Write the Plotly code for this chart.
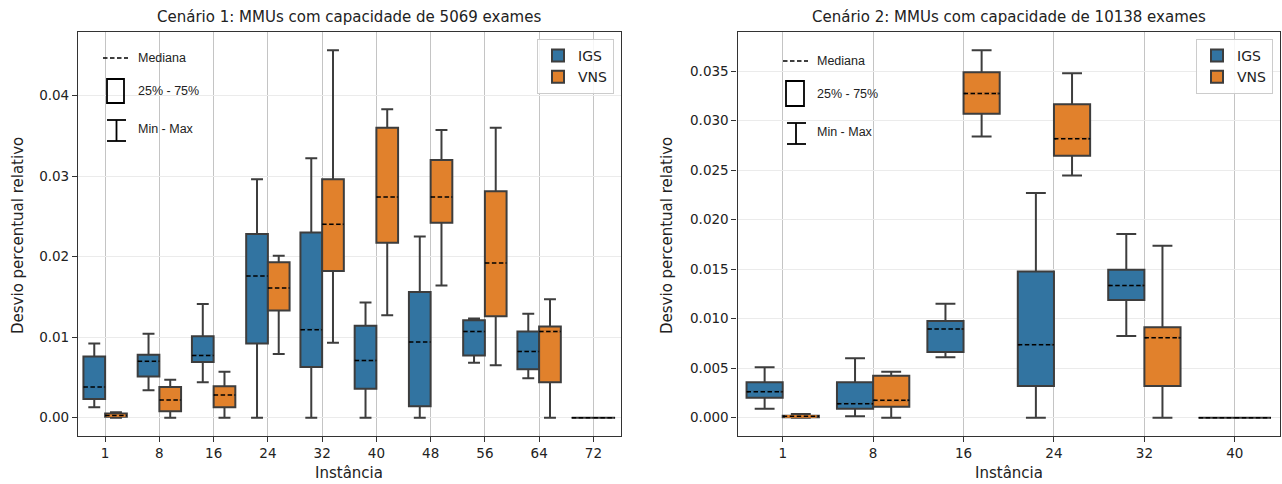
import plotly.graph_objects as go

# ---------------- data ----------------
cats1 = ["1", "8", "16", "24", "32", "40", "48", "56", "64", "72"]
igs1_min = [0.0013, 0.0034, 0.0044, 0.0, 0.0, 0.0, 0.0, 0.0068, 0.0049, 0.0]
igs1_q1 = [0.0023, 0.0051, 0.0069, 0.0092, 0.0063, 0.0036, 0.0014, 0.0077, 0.0060, 0.0]
igs1_med = [0.0038, 0.0070, 0.0077, 0.0176, 0.0109, 0.0071, 0.0094, 0.0107, 0.0082, 0.0]
igs1_q3 = [0.0076, 0.0078, 0.0101, 0.0228, 0.0230, 0.0114, 0.0156, 0.0121, 0.0107, 0.0]
igs1_max = [0.0092, 0.0104, 0.0141, 0.0296, 0.0322, 0.0143, 0.0225, 0.0123, 0.0129, 0.0]

vns1_min = [0.0, 0.0, 0.0, 0.0079, 0.0093, 0.0127, 0.0164, 0.0065, 0.0, 0.0]
vns1_q1 = [0.0001, 0.0008, 0.0013, 0.0133, 0.0182, 0.0217, 0.0242, 0.0126, 0.0044, 0.0]
vns1_med = [0.00025, 0.0022, 0.0028, 0.0161, 0.0240, 0.0274, 0.0274, 0.0192, 0.0107, 0.0]
vns1_q3 = [0.0005, 0.0038, 0.0039, 0.0193, 0.0296, 0.0360, 0.0320, 0.0281, 0.0113, 0.0]
vns1_max = [0.00066, 0.0047, 0.0057, 0.0201, 0.0456, 0.0383, 0.0357, 0.0360, 0.0147, 0.0]

cats2 = ["1", "8", "16", "24", "32", "40"]
igs2_min = [0.00091, 0.00013, 0.00609, 0.0, 0.00824, 0.0]
igs2_q1 = [0.00202, 0.00091, 0.00663, 0.0032, 0.01188, 0.0]
igs2_med = [0.00262, 0.00141, 0.00895, 0.00737, 0.01336, 0.0]
igs2_q3 = [0.00357, 0.00357, 0.00976, 0.01477, 0.01494, 0.0]
igs2_max = [0.0051, 0.0060, 0.0115, 0.02268, 0.01854, 0.0]

vns2_min = [0.0, 0.0, 0.0284, 0.02446, 0.0, 0.0]
vns2_q1 = [0.00003, 0.00111, 0.0307, 0.02645, 0.0032, 0.0]
vns2_med = [0.00013, 0.00175, 0.03274, 0.02816, 0.00808, 0.0]
vns2_q3 = [0.0002, 0.00424, 0.0349, 0.03166, 0.00912, 0.0]
vns2_max = [0.00037, 0.00464, 0.0371, 0.0348, 0.01736, 0.0]

title1 = "Cenário 1: MMUs com capacidade de 5069 exames"
title2 = "Cenário 2: MMUs com capacidade de 10138 exames"
xlabel = "Instância"
ylabel = "Desvio percentual relativo"

# ---------------- style ----------------
W, H = 1282, 484
BLUE = "#3274A1"
ORANGE = "#E1812C"
EDGE = "#3d3d3d"
FONT = "DejaVu Sans"
BOXW = 0.4


def P(x):
    return x / W


def Q(y):
    return 1 - y / H


fig = go.Figure()


def add_series(name, color, offset, mins, q1, med, q3, maxs, xa, ya, legend):
    pos = [i + offset for i in range(len(med))]
    fig.add_trace(go.Box(
        x=pos, q1=q1, median=med, q3=q3, lowerfence=mins, upperfence=maxs,
        width=BOXW, whiskerwidth=0.55, fillcolor=color,
        line=dict(color=EDGE, width=2), boxpoints=False,
        name=name, legend=legend, xaxis=xa, yaxis=ya, showlegend=True,
    ))
    # cover the solid median with the fill colour, then draw dashed median
    eps = 0.025
    cx, cy, dx, dy = [], [], [], []
    for p, a, m, b in zip(pos, q1, med, q3):
        if b - a > 0:
            cx += [p - BOXW / 2 + eps, p + BOXW / 2 - eps, None]
            cy += [m, m, None]
        dx += [p - BOXW / 2, p + BOXW / 2, None]
        dy += [m, m, None]
    fig.add_trace(go.Scatter(x=cx, y=cy, mode="lines", line=dict(color=color, width=2.6),
                             xaxis=xa, yaxis=ya, showlegend=False, hoverinfo="skip"))
    fig.add_trace(go.Scatter(x=dx, y=dy, mode="lines",
                             line=dict(color="black", width=1.5, dash="4.5px,2.5px"),
                             xaxis=xa, yaxis=ya, showlegend=False, hoverinfo="skip"))


add_series("IGS", BLUE, -0.2, igs1_min, igs1_q1, igs1_med, igs1_q3, igs1_max, "x", "y", "legend")
add_series("VNS", ORANGE, 0.2, vns1_min, vns1_q1, vns1_med, vns1_q3, vns1_max, "x", "y", "legend")
add_series("IGS", BLUE, -0.2, igs2_min, igs2_q1, igs2_med, igs2_q3, igs2_max, "x2", "y2", "legend2")
add_series("VNS", ORANGE, 0.2, vns2_min, vns2_q1, vns2_med, vns2_q3, vns2_max, "x2", "y2", "legend2")


def yrange(*arrs):
    lo = min(min(a) for a in arrs)
    hi = max(max(a) for a in arrs)
    pad = 0.05 * (hi - lo)
    return [lo - pad, hi + pad]


yr1 = yrange(igs1_min, vns1_min, igs1_max, vns1_max)
yr2 = yrange(igs2_min, vns2_min, igs2_max, vns2_max)

tickfont = dict(family=FONT, size=13.5, color="#222")
common_x = dict(showgrid=True, gridcolor="#c4c4c4", gridwidth=1, showline=True, mirror=True,
                linecolor="#333", linewidth=1.2, ticks="outside", ticklen=5, tickcolor="#333",
                zeroline=False, tickfont=tickfont)
common_y = dict(showgrid=True, gridcolor="#ebebeb", gridwidth=1, showline=True, mirror=True,
                linecolor="#333", linewidth=1.2, ticks="outside", ticklen=5, tickcolor="#333",
                zeroline=False, tickfont=tickfont)

ydom = [Q(436), Q(32)]
fig.update_layout(
    width=W, height=H, margin=dict(l=0, r=0, t=0, b=0),
    paper_bgcolor="white", plot_bgcolor="white",
    xaxis=dict(domain=[P(78), P(620.5)], range=[-0.5, len(cats1) - 0.5],
               tickvals=list(range(len(cats1))), ticktext=cats1, anchor="y", **common_x),
    yaxis=dict(domain=ydom, range=yr1, dtick=0.01, tickformat=".2f", anchor="x", **common_y),
    xaxis2=dict(domain=[P(737.5), P(1280)], range=[-0.5, len(cats2) - 0.5],
                tickvals=list(range(len(cats2))), ticktext=cats2, anchor="y2", **common_x),
    yaxis2=dict(domain=ydom, range=yr2, dtick=0.005, tickformat=".3f", anchor="x2", **common_y),
    legend=dict(x=P(614), xanchor="right", y=Q(39), yanchor="top", bgcolor="rgba(255,255,255,0.85)",
                bordercolor="#cccccc", borderwidth=1, font=dict(family=FONT, size=14, color="#222")),
    legend2=dict(x=P(1273), xanchor="right", y=Q(39), yanchor="top", bgcolor="rgba(255,255,255,0.85)",
                 bordercolor="#cccccc", borderwidth=1, font=dict(family=FONT, size=14, color="#222")),
    showlegend=True,
)

ann = []
# titles
ann.append(dict(text=title1, x=P(349), y=Q(17), xref="paper", yref="paper", showarrow=False,
                font=dict(family=FONT, size=15, color="#222"), xanchor="center", yanchor="middle"))
ann.append(dict(text=title2, x=P(1009), y=Q(17), xref="paper", yref="paper", showarrow=False,
                font=dict(family=FONT, size=15, color="#222"), xanchor="center", yanchor="middle"))
# axis labels
for xc in (P(349), P(1009)):
    ann.append(dict(text=xlabel, x=xc, y=Q(473), xref="paper", yref="paper", showarrow=False,
                    font=dict(family=FONT, size=15, color="#222"), xanchor="center", yanchor="middle"))
for xc in (P(18), P(667)):
    ann.append(dict(text=ylabel, x=xc, y=Q(236), xref="paper", yref="paper", showarrow=False,
                    textangle=-90, font=dict(family=FONT, size=15, color="#222"),
                    xanchor="center", yanchor="middle"))

# custom key (Mediana / 25%-75% / Min-Max)
shapes = []
keyfont = dict(family="Liberation Sans", size=12.5, color="#222")
for (lx, ly, bx0, bx1, by0, by1, wx, wy0, wy1, wc0, wc1, tx, ty) in [
    (103, 58, 107, 124, 79, 103, 116.5, 120, 141, 107, 126, 136, [58, 91, 129]),
    (783, 61, 786, 804, 81, 106, 796, 123, 144, 787, 806, 815, [61, 94, 132]),
]:
    shapes.append(dict(type="line", xref="paper", yref="paper", x0=P(lx), x1=P(lx + 25),
                       y0=Q(ly), y1=Q(ly), line=dict(color="black", width=1.6, dash="4.5px,2.5px")))
    shapes.append(dict(type="rect", xref="paper", yref="paper", x0=P(bx0), x1=P(bx1),
                       y0=Q(by1), y1=Q(by0), line=dict(color="black", width=1.8)))
    shapes.append(dict(type="line", xref="paper", yref="paper", x0=P(wx), x1=P(wx),
                       y0=Q(wy1), y1=Q(wy0), line=dict(color="black", width=1.8)))
    for wy in (wy0, wy1):
        shapes.append(dict(type="line", xref="paper", yref="paper", x0=P(wc0), x1=P(wc1),
                           y0=Q(wy), y1=Q(wy), line=dict(color="black", width=1.8)))
    for t, yy in zip(["Mediana", "25% - 75%", "Min - Max"], ty):
        ann.append(dict(text=t, x=P(tx), y=Q(yy), xref="paper", yref="paper", showarrow=False,
                        font=keyfont, xanchor="left", yanchor="middle"))

fig.update_layout(annotations=ann, shapes=shapes)
fig.write_html(
    "out.html",
    config={"displayModeBar": False},
    post_script="document.body.style.margin='0';document.body.style.padding='0';"
                "document.body.style.overflow='hidden';",
)
